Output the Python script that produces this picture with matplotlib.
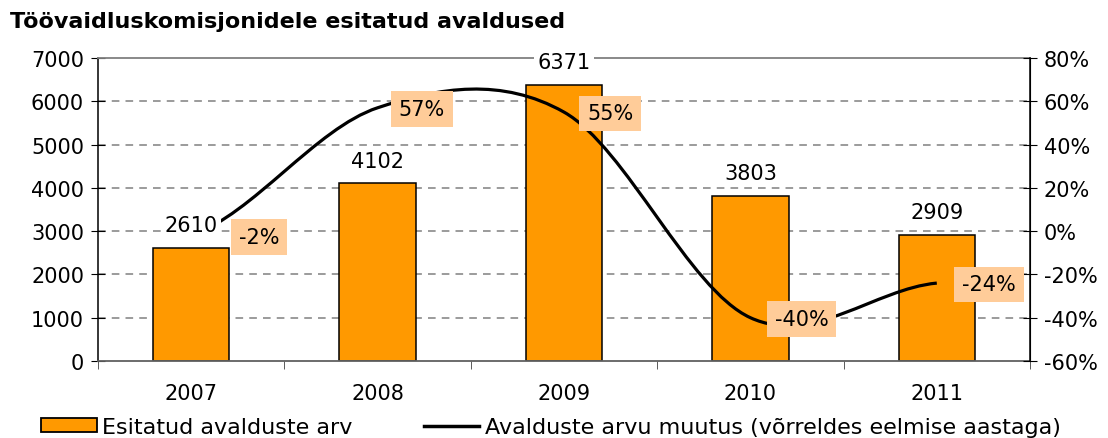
import matplotlib
matplotlib.use("Agg")
import matplotlib.pyplot as plt
from matplotlib.path import Path
from matplotlib.patches import PathPatch, Patch
from matplotlib.lines import Line2D

plt.rcParams['font.family'] = ['DejaVu Sans']

# data
years = ['2007', '2008', '2009', '2010', '2011']
applications = [2610, 4102, 6371, 3803, 2909]
change_pct = [-2, 57, 55, -40, -24]
change_labels = ['-2%', '57%', '55%', '-40%', '-24%']
# label offsets to the right of each point (pixels, as placed in the original)
label_dx = [68, 44, 46, 51, 52]

orange = '#FF9900'
label_bg = '#FFCC99'
grid_grey = '#808080'
fs = 15

fig = plt.figure(figsize=(11.08, 4.39), dpi=100)
ax = fig.add_axes([98 / 1108, 1 - 362 / 439, 932 / 1108, 303 / 439])
ax2 = ax.twinx()

x = list(range(len(years)))
ax.bar(x, applications, width=0.41, color=orange, edgecolor='black', linewidth=1.1, zorder=2)

ax.set_xlim(-0.5, len(years) - 0.5)
ax.set_ylim(0, 7000)
ax.set_yticks(range(0, 7001, 1000))
ax.set_xticks(x)
ax.set_xticklabels(years)
ax.set_xticks([i + 0.5 for i in range(-1, len(years))], minor=True)
ax.tick_params(axis='x', which='major', length=0, pad=16, labelsize=fs)
ax.tick_params(axis='x', which='minor', length=6, direction='out', color='#404040')
ax.tick_params(axis='y', length=10, direction='inout', labelsize=fs, pad=5)

for v in range(1000, 7000, 1000):
    ax.axhline(v, color=grid_grey, linestyle=(0, (5, 4)), linewidth=1.1, zorder=1)

ax.spines['top'].set_color(grid_grey)
ax.spines['top'].set_linewidth(1.3)
ax.spines['bottom'].set_color('#606060')
ax.spines['bottom'].set_linewidth(1.3)
ax.spines['left'].set_linewidth(1.1)

ax2.set_ylim(-60, 80)
ax2.set_yticks(range(-60, 81, 20))
ax2.set_yticklabels([f'{v}%' for v in range(-60, 81, 20)])
ax2.tick_params(axis='y', length=10, direction='inout', labelsize=fs, pad=5)
for s in ['top', 'bottom', 'left']:
    ax2.spines[s].set_visible(False)
ax2.spines['right'].set_linewidth(1.1)

# smoothed line (Excel-style bezier through the points)
n = len(x)
verts = [(x[0], change_pct[0])]
codes = [Path.MOVETO]
for i in range(n - 1):
    p0 = change_pct[i - 1] if i > 0 else change_pct[i]
    p1 = change_pct[i]
    p2 = change_pct[i + 1]
    p3 = change_pct[i + 2] if i + 2 < n else change_pct[i + 1]
    verts += [(x[i] + 1 / 3, p1 + (p2 - p0) / 6),
              (x[i + 1] - 1 / 3, p2 - (p3 - p1) / 6),
              (x[i + 1], p2)]
    codes += [Path.CURVE4] * 3
ax2.add_patch(PathPatch(Path(verts, codes), facecolor='none', edgecolor='black',
                        linewidth=2.3, zorder=3, capstyle='butt'))

# bar value labels (white background hides the line)
for xi, v in zip(x, applications):
    ax2.annotate(str(v), (xi, v), xycoords=ax.transData, xytext=(0, 16.5),
                 textcoords='offset points', ha='center', va='center', fontsize=fs,
                 zorder=5, bbox=dict(boxstyle='square,pad=0.15', fc='white', ec='none'))

# percentage labels
for xi, v, lab, dx in zip(x, change_pct, change_labels, label_dx):
    ax2.annotate(lab, (xi, v), xytext=(dx * 0.72, -1),
                 textcoords='offset points', ha='center', va='center', fontsize=fs,
                 zorder=6, bbox=dict(boxstyle='square,pad=0.38', fc=label_bg, ec='none'))

fig.text(10 / 1108, 1 - 22 / 439, 'Töövaidluskomisjonidele esitatud avaldused',
         fontsize=16, fontweight='bold', ha='left', va='center')

handles = [Patch(facecolor=orange, edgecolor='black', linewidth=1.3),
           Line2D([], [], color='black', linewidth=2.5)]
fig.legend(handles, ['Esitatud avalduste arv',
                     'Avalduste arvu muutus (võrreldes eelmise aastaga)'],
           loc='center left', bbox_to_anchor=(41 / 1108, 1 - 428 / 439), ncol=2,
           frameon=False, fontsize=16, handlelength=2.5, handleheight=0.55,
           handletextpad=0.25, columnspacing=3.2, borderaxespad=0, borderpad=0)

fig.savefig('out.png', dpi=100)
